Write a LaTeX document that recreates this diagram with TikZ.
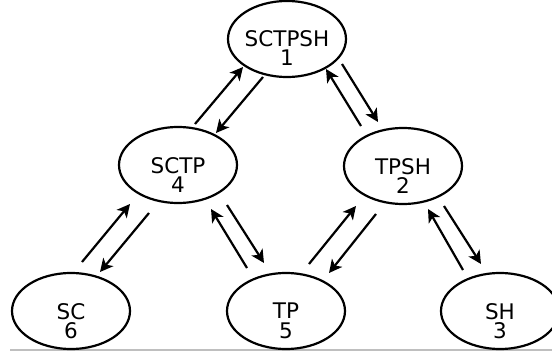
\documentclass[tikz,border=0pt]{standalone}
\usepackage{fontspec}
\setmainfont{DejaVu Sans}
\usetikzlibrary{calc,arrows.meta,shapes.geometric}
\tikzset{
  ell/.style={draw, line width=2.2pt, ellipse, minimum width=118pt, minimum height=76pt, inner sep=0pt},
  lbl/.style={align=center, inner sep=0pt, font=\fontsize{21.5}{19.5}\selectfont},
  arr/.style={line width=2.2pt, -{Stealth[length=13pt,width=13pt,inset=3.5pt]}}
}
\begin{document}
\begin{tikzpicture}[x=1pt,y=-1pt]
\useasboundingbox (0,0) rectangle (552,356);
\clip (0,0) rectangle (552,356);
\coordinate (gl) at (10,350);
\coordinate (gr) at (552,350);
\draw[line width=1.2pt, gray!50] (gl) -- (gr);
\node[ell] (n1) at (287,39) {};
\node[ell] (n4) at (178,165) {};
\node[ell] (n2) at (403,166) {};
\node[ell] (n6) at (71,311) {};
\node[ell] (n5) at (286,311) {};
\node[ell] (n3) at (500,311) {};
\node[lbl] (t1) at ($(n1)+(0,9)$) {SCTPSH\\1};
\node[lbl] (t4) at ($(n4)+(0,10)$) {SCTP\\4};
\node[lbl] (t2) at ($(n2)+(0,10)$) {TPSH\\2};
\node[lbl] (t6) at ($(n6)+(0,10)$) {SC\\6};
\node[lbl] (t5) at ($(n5)+(0,10)$) {TP\\5};
\node[lbl] (t3) at ($(n3)+(0,10)$) {SH\\3};
\draw[arr] ($(n6)+(11,-49)$) -- ($(n4)+(-48,39)$);
\draw[arr] ($(n4)+(-29,48)$) -- ($(n6)+(29,-39)$);
\draw[arr] ($(n5)+(-39,-43)$) -- ($(n4)+(33,44)$);
\draw[arr] ($(n4)+(49,40)$) -- ($(n5)+(-22,-48)$);
\draw[arr] ($(n4)+(17,-41)$) -- ($(n1)+(-44,28)$);
\draw[arr] ($(n1)+(-24,38)$) -- ($(n4)+(38,-32)$);
\draw[arr] ($(n2)+(-42,-40)$) -- ($(n1)+(39,30)$);
\draw[arr] ($(n1)+(55,25)$) -- ($(n2)+(-25,-44)$);
\draw[arr] ($(n5)+(23,-47)$) -- ($(n2)+(-47,40)$);
\draw[arr] ($(n2)+(-27,48)$) -- ($(n5)+(43,-38)$);
\draw[arr] ($(n3)+(-37,-41)$) -- ($(n2)+(25,43)$);
\draw[arr] ($(n2)+(41,40)$) -- ($(n3)+(-19,-47)$);
\end{tikzpicture}
\end{document}
